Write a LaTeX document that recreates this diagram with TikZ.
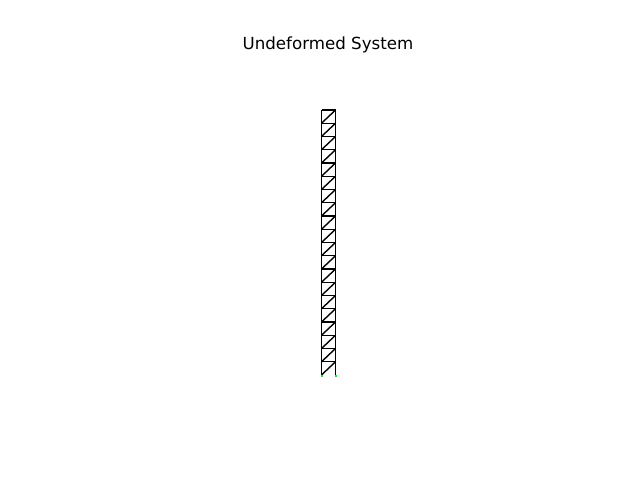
\documentclass[tikz,border=0pt]{standalone}
\usepackage{fontspec}
\setmainfont{DejaVu Sans}
\definecolor{supportgreen}{RGB}{40,220,60}
\tikzset{
  member/.style={draw=black,line width=1.4pt,line cap=butt},
  support/.style={rectangle,fill=supportgreen,inner sep=0pt,minimum size=2pt},
  titletext/.style={inner sep=0pt,font=\fontsize{16.67pt}{20pt}\selectfont,text=black}
}
\begin{document}
\begin{tikzpicture}[x=1pt,y=-1pt]
\useasboundingbox (0,0) rectangle (640,480);
\fill[white] (0,0) rectangle (640,480);
\node[titletext] (title) at (328,45) {Undeformed System};
\foreach \i in {0,...,20}{
  \coordinate (L\i) at (321.5,{375-13.25*\i});
  \coordinate (R\i) at (335.5,{375-13.25*\i});
}
\draw[member] (L0) -- (L20);
\draw[member] (R0) -- (R20);
\foreach \i in {1,...,20}{
  \draw[member] (L\i) -- (R\i);
}
\foreach \i [remember=\i as \j (initially 0)] in {1,...,20}{
  \draw[member] (L\j) -- (R\i);
}
\node[support,yshift=-0.5pt] (s1) at (L0) {};
\node[support,yshift=-0.5pt] (s2) at (R0) {};
\end{tikzpicture}
\end{document}
